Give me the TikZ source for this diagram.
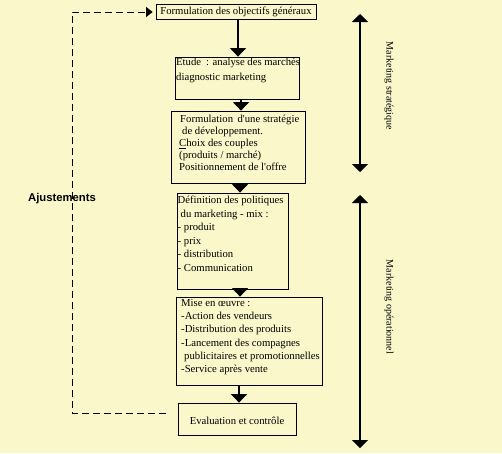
\documentclass[tikz,border=0pt]{standalone}
\usepackage{fontspec}
\setmainfont{Liberation Serif}
\newfontfamily\arialfont{Liberation Sans}
\usetikzlibrary{arrows.meta,calc}
\definecolor{bgc}{RGB}{250,248,203}
\begin{document}
\begin{tikzpicture}[x=1pt,y=-1pt,
  boxnode/.style={draw=black,line width=0.8pt,inner sep=0pt,anchor=center},
  txt/.style={anchor=north west,inner sep=0pt,align=left},
  arr/.style={line width=1.1pt,-{Triangle[width=16pt,length=8.5pt]}},
  sidearr/.style={line width=1.1pt,{Triangle[width=16pt,length=8pt]}-{Triangle[width=16pt,length=8pt]}},
  dashline/.style={line width=0.9pt,dash pattern=on 7pt off 4pt,-{Triangle[width=10pt,length=6.5pt]},shorten >=3pt},
  sidelabel/.style={rotate=-90,inner sep=0pt,font=\fontsize{10}{12}\selectfont}]
\fill[bgc] (0,0) rectangle (502,453);
\useasboundingbox (0,0) rectangle (502,453);

% boxes
\node[boxnode,minimum width=160pt,minimum height=15pt,font=\fontsize{10.7}{12}\selectfont] (b1) at (236,12) {Formulation des objectifs généraux};
\node[boxnode,minimum width=124pt,minimum height=42pt] (b2) at (237,78) {};
\node[boxnode,minimum width=134pt,minimum height=72pt] (b3) at (238,147) {};
\node[boxnode,minimum width=111pt,minimum height=96pt] (b4) at (232.5,241) {};
\node[boxnode,minimum width=146pt,minimum height=88pt] (b5) at (249,341) {};
\node[boxnode,minimum width=118pt,minimum height=32pt] (b6) at (237,419) {};

% texts
\node[txt,font=\fontsize{10.7}{15}\selectfont] (t2) at (176,56.5)
  {\rule{0pt}{8.5pt}Etude\hspace{5pt}: analyse des marchés\\diagnostic marketing};
\node[txt,font=\fontsize{10.7}{12}\selectfont] (t3) at (179,113.5)
  {\rule{0pt}{8.5pt}\hspace{1pt}Formulation\hspace{4.5pt}d\textquotesingle une stratégie\\\hspace{3pt}de développement.\\\underline{C}hoix des couples\\(produits / marché)\\Positionnement de l\textquotesingle offre};
\node[txt,font=\fontsize{10.7}{13.5}\selectfont] (t4) at (177.5,195)
  {\rule{0pt}{8.5pt}Définition des politiques\\\hspace{3pt}du marketing - mix :\\- produit\\- prix\\- distribution\\- Communication};
\node[txt,font=\fontsize{10.7}{13.3}\selectfont] (t5) at (181,297.5)
  {\rule{0pt}{8.5pt}Mise en œuvre :\\-Action des vendeurs\\-Distribution des produits\\-Lancement des compagnes\\\hspace{3pt}publicitaires et promotionnelles\\-Service après vente};
\node[inner sep=0pt,font=\fontsize{10.7}{12}\selectfont] (t6) at ($(b6.center)+(0,1.5)$) {Evaluation et contrôle};

% arrows between boxes
\draw[arr] ([xshift=2pt]b1.south) -- ([xshift=1pt]b2.north);
\draw[arr] ([xshift=4pt]b2.south) -- ([xshift=3pt]b3.north);
\draw[arr] ([xshift=2pt]b3.south) -- ([xshift=7.5pt]b4.north);
\draw[arr] ([xshift=7.5pt]b4.south) -- ([xshift=-9pt]b5.north);
\draw[arr] ([xshift=-10pt]b5.south) -- ([xshift=2pt]b6.north);

% feedback loop
\coordinate (ae) at (166,413);
\coordinate (aj) at (72,200);
\draw[dashline] (ae) -| (aj) |- (b1.west);
\node[inner sep=0pt,font=\arialfont\bfseries\fontsize{11.3}{13}\selectfont] (ajl) at (62,199) {Ajustements};

% side arrows
\coordinate (s1t) at (360,14);
\coordinate (s1b) at (360,172);
\coordinate (s2t) at (360,195);
\coordinate (s2b) at (360,448);
\draw[sidearr] (s1t) -- (s1b);
\draw[sidearr] (s2t) -- (s2b);
\node[sidelabel] (l1) at (389,86) {Marketing stratégique};
\node[sidelabel] (l2) at (389,307) {Marketing opérationnel};
\end{tikzpicture}
\end{document}
